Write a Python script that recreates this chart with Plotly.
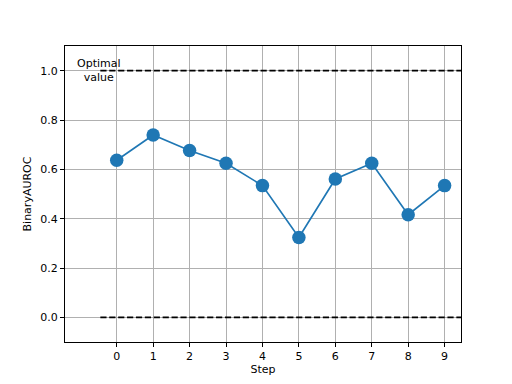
import plotly.graph_objects as go

steps = [0, 1, 2, 3, 4, 5, 6, 7, 8, 9]
auroc = [0.637, 0.739, 0.676, 0.625, 0.534, 0.324, 0.561, 0.625, 0.416, 0.534]
optimal_values = [1.0, 0.0]
y_ticks = [0.0, 0.2, 0.4, 0.6, 0.8, 1.0]
y_tick_labels = ["0.0", "0.2", "0.4", "0.6", "0.8", "1.0"]

FONT = "DejaVu Sans"
fig = go.Figure()

span = [steps[0] - 0.45, steps[-1] + 0.5]
for v in optimal_values:
    fig.add_trace(go.Scatter(
        x=span, y=[v, v], mode="lines",
        line=dict(color="black", width=1.67, dash="6.2px,2.7px"),
        showlegend=False, hoverinfo="skip", cliponaxis=True))

fig.add_trace(go.Scatter(
    x=steps, y=auroc, mode="lines+markers",
    line=dict(color="#1f77b4", width=1.67),
    marker=dict(color="#1f77b4", size=13.5),
    showlegend=False))

fig.add_annotation(x=-0.5, y=optimal_values[0], text="Optimal<br>value",
                   showarrow=False, xanchor="center", yanchor="middle",
                   font=dict(family=FONT, size=11, color="black"))

axis_common = dict(showline=True, mirror=True, linecolor="black", linewidth=0.9,
                   showgrid=True, gridcolor="#b0b0b0", gridwidth=0.9,
                   ticks="outside", ticklen=4, tickwidth=0.9, tickcolor="black",
                   zeroline=False,
                   tickfont=dict(family=FONT, size=11, color="black"))

fig.update_xaxes(range=[-1.42, 9.45], tickvals=steps,
                 title=dict(text="Step", font=dict(family=FONT, size=11, color="black"), standoff=2),
                 **axis_common)
fig.update_yaxes(range=[-0.1, 1.1], tickvals=y_ticks, ticktext=y_tick_labels,
                 title=dict(text="BinaryAUROC", font=dict(family=FONT, size=11, color="black"), standoff=6),
                 **axis_common)

fig.update_layout(width=512, height=384,
                  margin=dict(l=57, r=59, t=38, b=50),
                  plot_bgcolor="white", paper_bgcolor="white",
                  font=dict(family=FONT, size=11, color="black"))

fig.write_html("out.html")
